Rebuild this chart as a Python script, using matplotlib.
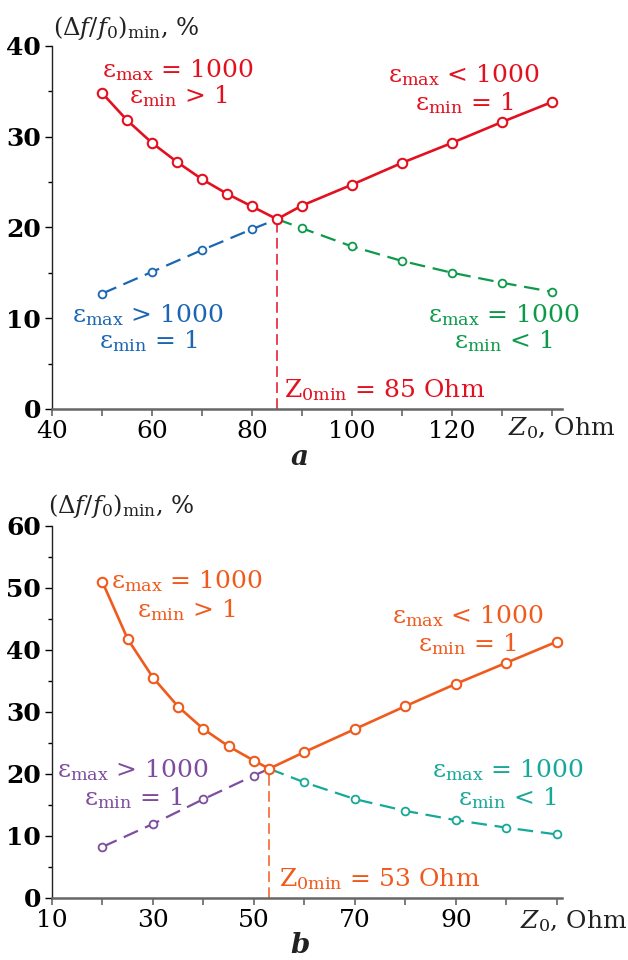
import numpy as np
import matplotlib.pyplot as plt

plt.rcParams['font.family'] = 'DejaVu Serif'
plt.rcParams['mathtext.fontset'] = 'dejavuserif'

# panel a
a_red_x = [50, 55, 60, 65, 70, 75, 80, 85, 90, 100, 110, 120, 130, 140]
a_red_y = [34.8, 31.8, 29.3, 27.2, 25.3, 23.7, 22.3, 20.9, 22.4, 24.7, 27.1, 29.3, 31.6, 33.8]
a_blue_x = [50, 60, 70, 80, 85]
a_blue_y = [12.7, 15.1, 17.5, 19.8, 20.9]
a_green_x = [85, 90, 100, 110, 120, 130, 140]
a_green_y = [20.9, 19.9, 17.9, 16.3, 15.0, 13.9, 12.9]
a_zmin = 85

# panel b
b_orange_x = [20, 25, 30, 35, 40, 45, 50, 53, 60, 70, 80, 90, 100, 110]
b_orange_y = [50.9, 41.7, 35.5, 30.8, 27.2, 24.4, 22.1, 20.8, 23.5, 27.2, 30.9, 34.5, 37.9, 41.3]
b_purple_x = [20, 30, 40, 50, 53]
b_purple_y = [8.2, 11.9, 15.9, 19.7, 20.8]
b_teal_x = [53, 60, 70, 80, 90, 100, 110]
b_teal_y = [20.8, 18.6, 15.9, 14.0, 12.5, 11.3, 10.2]
b_zmin = 53

RED = '#e3101f'
BLUE = '#1a66b3'
GREEN = '#0c9a4a'
ORANGE = '#f05a1c'
PURPLE = '#7d4d9f'
TEAL = '#16a899'

FS = 18


def style_axes(ax, xlim, ylim, xmajor, xlabels, ymajor, yminor):
    ax.set_xlim(*xlim)
    ax.set_ylim(*ylim)
    for s in ['top', 'right']:
        ax.spines[s].set_visible(False)
    ax.spines['left'].set_color('#222222')
    ax.spines['left'].set_linewidth(1.0)
    ax.spines['left'].set_bounds(ylim[0], ylim[1])
    ax.spines['bottom'].set_color('#666666')
    ax.spines['bottom'].set_linewidth(1.8)
    ax.set_xticks(xmajor)
    ax.set_xticklabels(xlabels, fontsize=FS)
    ax.set_yticks(ymajor)
    ax.set_yticks(yminor, minor=True)
    ax.set_yticklabels([str(v) for v in ymajor], fontsize=FS, fontweight='bold')
    ax.tick_params(axis='x', length=5, width=1.2, color='#666666', pad=3)
    ax.tick_params(axis='y', which='major', length=5, width=1.0, pad=3)
    ax.tick_params(axis='y', which='minor', length=3, width=1.0)
    ax.patch.set_visible(False)


def curves(ax, sx, sy, cs, lx, ly, cl, rx, ry, cr, zmin):
    ax.plot(lx, ly, color=cl, lw=1.6, dashes=(7, 3.5), marker='o', ms=5.6,
            mfc='white', mec=cl, mew=1.3, markevery=list(range(len(lx) - 1)), zorder=3)
    ax.plot(rx, ry, color=cr, lw=1.6, dashes=(7, 3.5), marker='o', ms=5.6,
            mfc='white', mec=cr, mew=1.3, markevery=list(range(1, len(rx))), zorder=3)
    ax.plot([zmin, zmin], [0, sy[sx.index(zmin)]], color=cs, lw=1.1, dashes=(7, 3.5), zorder=2)
    ax.plot(sx, sy, color=cs, lw=1.9, marker='o', ms=6.8, mfc='white', mec=cs, mew=1.5,
            zorder=4, clip_on=False)


fig = plt.figure(figsize=(6.28, 9.6), dpi=100)

# ---- panel a
ax1 = fig.add_axes([52 / 628, 1 - 409 / 960, 510 / 628, 363.3 / 960])
style_axes(ax1, (40, 142), (0, 40), np.arange(40, 141, 10),
           ['40', '', '60', '', '80', '', '100', '', '120', '', ''],
           [0, 10, 20, 30, 40], [5, 15, 25, 35])
curves(ax1, a_red_x, a_red_y, RED, a_blue_x, a_blue_y, BLUE,
       a_green_x, a_green_y, GREEN, a_zmin)

ax1.text(65.2, 36.5, r'ε$_{\mathrm{max}}$ = 1000', color=RED, fontsize=FS, ha='center', va='baseline')
ax1.text(65.2, 33.7, r'ε$_{\mathrm{min}}$ > 1', color=RED, fontsize=FS, ha='center', va='baseline')
ax1.text(122.4, 36.0, r'ε$_{\mathrm{max}}$ < 1000', color=RED, fontsize=FS, ha='center', va='baseline')
ax1.text(122.4, 32.9, r'ε$_{\mathrm{min}}$ = 1', color=RED, fontsize=FS, ha='center', va='baseline')
ax1.text(59.2, 9.6, r'ε$_{\mathrm{max}}$ > 1000', color=BLUE, fontsize=FS, ha='center', va='baseline')
ax1.text(59.2, 6.7, r'ε$_{\mathrm{min}}$ = 1', color=BLUE, fontsize=FS, ha='center', va='baseline')
ax1.text(130.3, 9.6, r'ε$_{\mathrm{max}}$ = 1000', color=GREEN, fontsize=FS, ha='center', va='baseline')
ax1.text(130.3, 6.7, r'ε$_{\mathrm{min}}$ < 1', color=GREEN, fontsize=FS, ha='center', va='baseline')
ax1.text(86.4, 1.35, r'Z$_{\mathrm{0min}}$ = 85 Ohm', color=RED, fontsize=FS, ha='left', va='baseline')

fig.text(53 / 628, 1 - 35 / 960, r'$(\Delta f/f_0)_{\mathrm{min}}$, %', fontsize=17.5, color='#222222',
         ha='left', va='baseline')
fig.text(508 / 628, 1 - 435 / 960, r'$Z_0$, Ohm', fontsize=FS, color='#222222', ha='left', va='baseline')
fig.text(300 / 628, 1 - 465 / 960, 'a', fontsize=20, style='italic', fontweight='bold',
         color='#222222', ha='center', va='baseline')

# ---- panel b
ax2 = fig.add_axes([52 / 628, 1 - 897.7 / 960, 510 / 628, 372 / 960])
style_axes(ax2, (10, 111), (0, 60), np.arange(10, 111, 10),
           ['10', '', '30', '', '50', '', '70', '', '90', '', ''],
           [0, 10, 20, 30, 40, 50, 60], [5, 15, 25, 35, 45, 55])
curves(ax2, b_orange_x, b_orange_y, ORANGE, b_purple_x, b_purple_y, PURPLE,
       b_teal_x, b_teal_y, TEAL, b_zmin)

ax2.text(36.6, 50.0, r'ε$_{\mathrm{max}}$ = 1000', color=ORANGE, fontsize=FS, ha='center', va='baseline')
ax2.text(36.6, 45.3, r'ε$_{\mathrm{min}}$ > 1', color=ORANGE, fontsize=FS, ha='center', va='baseline')
ax2.text(92.3, 44.3, r'ε$_{\mathrm{max}}$ < 1000', color=ORANGE, fontsize=FS, ha='center', va='baseline')
ax2.text(92.3, 39.7, r'ε$_{\mathrm{min}}$ = 1', color=ORANGE, fontsize=FS, ha='center', va='baseline')
ax2.text(26.0, 19.4, r'ε$_{\mathrm{max}}$ > 1000', color=PURPLE, fontsize=FS, ha='center', va='baseline')
ax2.text(26.0, 15.0, r'ε$_{\mathrm{min}}$ = 1', color=PURPLE, fontsize=FS, ha='center', va='baseline')
ax2.text(100.2, 19.4, r'ε$_{\mathrm{max}}$ = 1000', color=TEAL, fontsize=FS, ha='center', va='baseline')
ax2.text(100.2, 15.0, r'ε$_{\mathrm{min}}$ < 1', color=TEAL, fontsize=FS, ha='center', va='baseline')
ax2.text(55.0, 1.8, r'Z$_{\mathrm{0min}}$ = 53 Ohm', color=ORANGE, fontsize=FS, ha='left', va='baseline')

fig.text(48 / 628, 1 - 513 / 960, r'$(\Delta f/f_0)_{\mathrm{min}}$, %', fontsize=17.5, color='#222222',
         ha='left', va='baseline')
fig.text(520 / 628, 1 - 928 / 960, r'$Z_0$, Ohm', fontsize=FS, color='#222222', ha='left', va='baseline')
fig.text(300 / 628, 1 / 960, 'b', fontsize=20, style='italic', fontweight='bold',
         color='#222222', ha='center', va='bottom')

fig.savefig('out.png', dpi=100)
